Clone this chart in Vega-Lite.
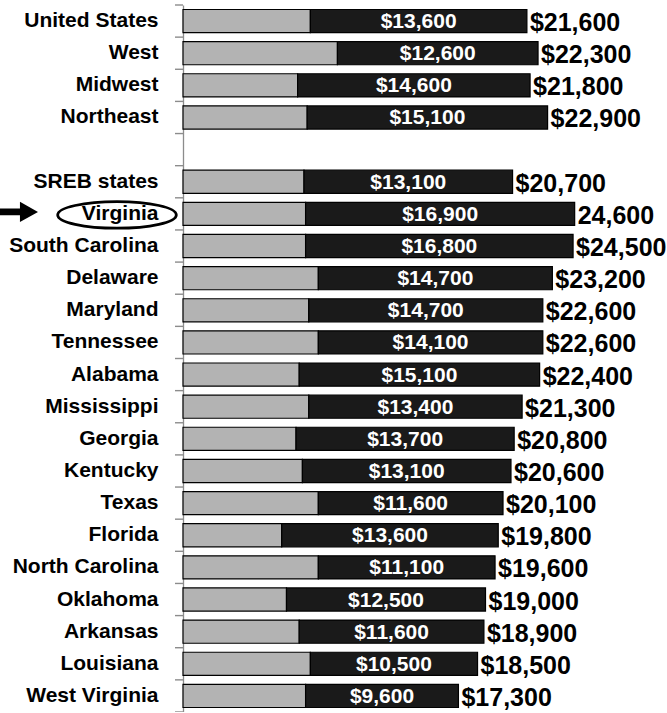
{
  "$schema": "https://vega.github.io/schema/vega-lite/v6.json",
  "autosize": {"type": "none"},
  "padding": {"left": 183, "top": 5, "right": 0, "bottom": 0},
  "width": 484,
  "height": 707,
  "background": "white",
  "config": {
    "view": {"stroke": null},
    "font": "Liberation Sans",
    "axis": {"grid": false}
  },
  "data": {
    "values": [
      {"name": "United States", "other": 8000, "tuition": 13600, "total": 21600, "label": "$21,600"},
      {"name": "West", "other": 9700, "tuition": 12600, "total": 22300, "label": "$22,300"},
      {"name": "Midwest", "other": 7200, "tuition": 14600, "total": 21800, "label": "$21,800"},
      {"name": "Northeast", "other": 7800, "tuition": 15100, "total": 22900, "label": "$22,900"},
      {"name": "SREB states", "other": 7600, "tuition": 13100, "total": 20700, "label": "$20,700"},
      {"name": "Virginia", "other": 7700, "tuition": 16900, "total": 24600, "label": "24,600"},
      {"name": "South Carolina", "other": 7700, "tuition": 16800, "total": 24500, "label": "$24,500"},
      {"name": "Delaware", "other": 8500, "tuition": 14700, "total": 23200, "label": "$23,200"},
      {"name": "Maryland", "other": 7900, "tuition": 14700, "total": 22600, "label": "$22,600"},
      {"name": "Tennessee", "other": 8500, "tuition": 14100, "total": 22600, "label": "$22,600"},
      {"name": "Alabama", "other": 7300, "tuition": 15100, "total": 22400, "label": "$22,400"},
      {"name": "Mississippi", "other": 7900, "tuition": 13400, "total": 21300, "label": "$21,300"},
      {"name": "Georgia", "other": 7100, "tuition": 13700, "total": 20800, "label": "$20,800"},
      {"name": "Kentucky", "other": 7500, "tuition": 13100, "total": 20600, "label": "$20,600"},
      {"name": "Texas", "other": 8500, "tuition": 11600, "total": 20100, "label": "$20,100"},
      {"name": "Florida", "other": 6200, "tuition": 13600, "total": 19800, "label": "$19,800"},
      {"name": "North Carolina", "other": 8500, "tuition": 11100, "total": 19600, "label": "$19,600"},
      {"name": "Oklahoma", "other": 6500, "tuition": 12500, "total": 19000, "label": "$19,000"},
      {"name": "Arkansas", "other": 7300, "tuition": 11600, "total": 18900, "label": "$18,900"},
      {"name": "Louisiana", "other": 8000, "tuition": 10500, "total": 18500, "label": "$18,500"},
      {"name": "West Virginia", "other": 7700, "tuition": 9600, "total": 17300, "label": "$17,300"}
    ]
  },
  "encoding": {
    "y": {
      "field": "name",
      "type": "nominal",
      "title": null,
      "scale": {
        "domain": ["United States", "West", "Midwest", "Northeast", " ", "SREB states", "Virginia", "South Carolina", "Delaware", "Maryland", "Tennessee", "Alabama", "Mississippi", "Georgia", "Kentucky", "Texas", "Florida", "North Carolina", "Oklahoma", "Arkansas", "Louisiana", "West Virginia"],
        "paddingInner": 0.28,
        "paddingOuter": 0.14
      },
      "axis": {
        "domainColor": "#8c8c8c",
        "domainWidth": 1.3,
        "ticks": false,
        "labelFontSize": 21,
        "labelFontWeight": "bold",
        "labelColor": "black",
        "labelPadding": 25,
        "labelFont": "Liberation Sans"
      }
    }
  },
  "layer": [
    {
      "transform": [{"fold": ["other", "tuition"], "as": ["key", "value"]}],
      "mark": {"type": "bar", "stroke": "#000000", "strokeWidth": 1.2},
      "encoding": {
        "x": {"field": "value", "type": "quantitative", "stack": "zero", "scale": {"domain": [0, 30400], "nice": false}, "axis": null},
        "color": {"field": "key", "type": "nominal", "scale": {"domain": ["other", "tuition"], "range": ["#b3b3b3", "#1a1a1a"]}, "legend": null},
        "order": {"field": "key", "sort": "ascending"}
      }
    },
    {
      "transform": [{"fold": ["other", "tuition"], "as": ["key", "value"]}],
      "mark": {"type": "text", "color": "white", "fontSize": 21, "fontWeight": "bold", "baseline": "middle", "align": "center", "dy": 1},
      "encoding": {
        "x": {"field": "value", "type": "quantitative", "stack": "zero", "bandPosition": 0.5},
        "detail": {"field": "key"},
        "order": {"field": "key", "sort": "ascending"},
        "text": {"condition": {"test": "datum.key === 'tuition'", "field": "value", "type": "quantitative", "format": "$,.0f"}, "value": ""}
      }
    },
    {
      "mark": {"type": "text", "color": "black", "fontSize": 25, "fontWeight": "bold", "baseline": "middle", "align": "left", "dx": 3, "dy": 2},
      "encoding": {
        "x": {"field": "total", "type": "quantitative"},
        "text": {"field": "label"}
      }
    },
    {
      "mark": {"type": "point", "shape": "M -1 0 L 0 0", "size": 256, "filled": false, "stroke": "#8c8c8c", "strokeWidth": 1.4, "opacity": 1, "yOffset": -16.07},
      "encoding": {
        "x": {"datum": 0, "type": "quantitative"}
      }
    },
    {
      "transform": [{"filter": "datum.name === 'Northeast' || datum.name === 'West Virginia'"}],
      "mark": {"type": "point", "shape": "M -1 0 L 0 0", "size": 256, "filled": false, "stroke": "#8c8c8c", "strokeWidth": 1.4, "opacity": 1, "yOffset": 16.07},
      "encoding": {
        "x": {"datum": 0, "type": "quantitative"}
      }
    },
    {
      "transform": [{"filter": "datum.name === 'Virginia'"}],
      "mark": {"type": "point", "shape": "M -1 0 A 1 0.224 0 1 0 1 0 A 1 0.224 0 1 0 -1 0 Z", "size": 14066, "filled": false, "stroke": "black", "strokeWidth": 2.8, "opacity": 1, "xOffset": -66, "yOffset": 1},
      "encoding": {
        "x": {"datum": 0, "type": "quantitative"}
      }
    },
    {
      "transform": [{"filter": "datum.name === 'Virginia'"}],
      "mark": {"type": "point", "shape": "M -1 -0.18 L 0.05 -0.18 L 0.05 -0.53 L 1 0 L 0.05 0.53 L 0.05 0.18 L -1 0.18 Z", "size": 1444, "filled": true, "color": "black", "opacity": 1, "xOffset": -164, "yOffset": -2},
      "encoding": {
        "x": {"datum": 0, "type": "quantitative"}
      }
    }
  ]
}
